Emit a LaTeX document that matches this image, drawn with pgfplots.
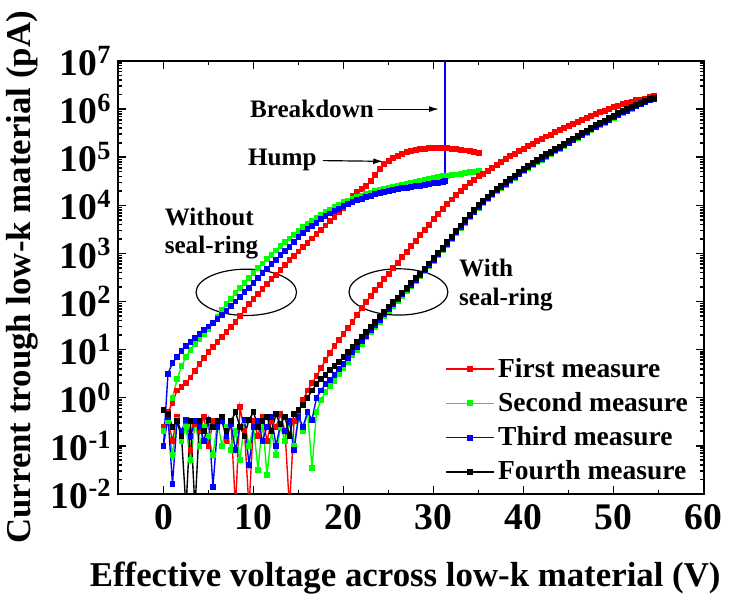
\documentclass[border=0pt]{standalone}
\usepackage{fontspec}
\setmainfont{Liberation Serif}
\usepackage{pgfplots}
\pgfplotsset{compat=1.18}
\usetikzlibrary{arrows.meta}

\definecolor{cR}{RGB}{255,0,0}
\definecolor{cG}{RGB}{0,255,0}
\definecolor{cB}{RGB}{0,0,255}
\pgfplotsset{ser/.style={line width=0.7pt, mark=square*, mark size=1.15pt, mark options={solid}}}

\begin{document}
\begin{tikzpicture}
\begin{axis}[
  scale only axis,
  width=295.8pt, height=218.8pt,
  xmin=-5, xmax=60,
  ymode=log, ymin=1e-2, ymax=1e7,
  axis line style={line width=1pt},
  tick align=inside,
  major tick length=4pt, minor tick length=2pt,
  every tick/.style={black, line width=0.8pt},
  xtick={0,10,...,60}, minor x tick num=1,
  xticklabels={0,10,20,30,40,50,60},
  ytick={1e-2,1e-1,1,1e1,1e2,1e3,1e4,1e5,1e6,1e7},
  yticklabels={10\textsuperscript{-2},10\textsuperscript{-1},10\textsuperscript{0},10\textsuperscript{1},10\textsuperscript{2},10\textsuperscript{3},10\textsuperscript{4},10\textsuperscript{5},10\textsuperscript{6},10\textsuperscript{7}},
  tick label style={font=\fontsize{19}{21}\selectfont\bfseries},
  xticklabel style={yshift=-2pt},
  xlabel={Effective voltage across low-k material (V)},
  ylabel={Current trough low-k material (pA)},
  label style={font=\fontsize{17.6}{20}\selectfont\bfseries},
  xlabel style={at={(axis description cs:0.49,-0.195)}, anchor=center},
  ylabel style={at={(axis description cs:-0.164,0.5)}, anchor=center, rotate=0},
  legend style={at={(axis description cs:0.558,0.324)}, anchor=north west, draw=none, fill=none,
    font=\fontsize{13.9}{16}\selectfont\bfseries, row sep=2.2pt, inner sep=0pt},
  legend cell align=left,
  legend image code/.code={\draw[mark repeat=2, mark phase=2] plot coordinates {(0pt,0pt) (12pt,0pt) (24pt,0pt)};},
]
% ---- without seal-ring ----
\addplot[ser, cR, forget plot] coordinates {
(0,0.25)(0.5,0.5)(1,0.79)(1.5,1.41)(2,1.66)(2.5,2.0)(3,2.63)(3.5,3.63)(4,5.0)(4.5,6.61)
(5,8.71)(5.5,11.2)(6,14.5)(6.5,18.6)(7,23.4)(7.5,29.5)(8,38)(8.5,50.1)(9,66.1)(9.5,87.1)
(10,112)(10.5,145)(11,182)(11.5,229)(12,288)(12.5,363)(13,457)(13.5,575)(14,724)(14.5,891)
(15,1096)(15.5,1349)(16,1660)(16.5,2042)(17,2512)(17.5,3090)(18,3802)(18.5,4677)(19,5754)(19.5,7079)
(20,8913)(20.5,11750)(21,15850)(21.5,18600)(22,21400)(22.5,25100)(23,31600)(23.5,42700)(24,56200)(24.5,70800)
(25,83200)(25.5,95500)(26,107000)(26.5,117000)(27,126000)(27.5,135000)(28,141000)(28.5,148000)(29,151000)(29.5,155000)
(30,158000)(30.5,158000)(31,158000)(31.5,155000)(32,151000)(32.5,148000)(33,141000)(33.5,138000)(34,132000)(34.5,129000)(35,123000)};
\addplot[ser, cG, forget plot] coordinates {
(1,1.0)(1.5,2.4)(2,4.47)(2.5,7.08)(3,10)(3.5,13.2)(4,16.6)(4.5,20.9)
(5,26.3)(5.5,35.5)(6,47.9)(6.5,66.1)(7,89.1)(7.5,115)(8,148)(8.5,191)(9,240)(9.5,309)
(10,389)(10.5,490)(11,617)(11.5,759)(12,933)(12.5,1148)(13,1413)(13.5,1698)(14,2042)(14.5,2455)
(15,2951)(15.5,3467)(16,4074)(16.5,4786)(17,5495)(17.5,6310)(18,7244)(18.5,8128)(19,9120)(19.5,10230)
(20,11480)(20.5,12590)(21,13800)(21.5,14790)(22,15850)(22.5,16980)(23,18200)(23.5,19500)(24,20900)(24.5,21900)
(25,23400)(25.5,24500)(26,25700)(26.5,26900)(27,28200)(27.5,29500)(28,30900)(28.5,32400)(29,33900)(29.5,35500)
(30,36300)(30.5,38000)(31,39800)(31.5,40700)(32,42700)(32.5,43700)(33,45700)(33.5,46800)(34,49000)(34.5,50100)(35,52500)};
\addplot[ser, cB, forget plot] coordinates {
(0,0.1)(0.5,3.16)(1,5.25)(1.5,7.08)(2,9.3)(2.5,11.7)(3,14.5)(3.5,17.4)(4,20.9)(4.5,25.1)
(5,30.2)(5.5,36.3)(6,43.7)(6.5,52.5)(7,63.1)(7.5,79.4)(8,100)(8.5,126)(9,155)(9.5,195)
(10,245)(10.5,309)(11,389)(11.5,479)(12,603)(12.5,741)(13,912)(13.5,1122)(14,1380)(14.5,1738)
(15,2188)(15.5,2630)(16,3162)(16.5,3715)(17,4365)(17.5,5129)(18,5888)(18.5,6761)(19,7586)(19.5,8511)
(20,9550)(20.5,10700)(21,11750)(21.5,12880)(22,13800)(22.5,14800)(23,15850)(23.5,17000)(24,17800)(24.5,18600)
(25,19500)(25.5,20400)(26,21400)(26.5,22400)(27,22900)(27.5,24000)(28,25100)(28.5,25700)(29,26900)(29.5,27500)
(30,28800)(30.5,29500)(31,30900)(31.3,31600)};
\addplot[color=cB, line width=0.8pt, mark=none, forget plot] coordinates {(31.3,31600)(31.3,1e8)};
% ---- with seal-ring ----
\addplot[ser, cR] coordinates {
(0,0.25)(0.5,0.35)(1,0.126)(1.5,0.4)(2,0.16)(2.5,0.32)(3,0.08)(3.5,0.28)(4,0.2)(4.5,0.4)
(5,0.1)(5.5,0.32)(6,0.25)(6.5,0.35)(7,0.126)(7.5,0.32)(8,0.005)(8.5,0.63)(9,0.2)(9.5,0.005)
(10,0.32)(10.5,0.16)(11,0.4)(11.5,0.126)(12,0.32)(12.5,0.25)(13,0.45)(13.5,0.2)(14,0.005)(14.5,0.32)
(15,0.5)(15.5,0.89)(16,1.41)(16.5,2.0)(17,2.82)(17.5,4.17)(18,6.03)(18.5,8.51)(19,12.0)(19.5,15.8)
(20,21.4)(20.5,28.2)(21,37.2)(21.5,51.3)(22,72.4)(22.5,97.7)(23,129)(23.5,170)(24,224)(24.5,288)
(25,380)(25.5,490)(26,631)(26.5,832)(27,1072)(27.5,1413)(28,1820)(28.5,2399)(29,3090)(29.5,3981)
(30,5129)(30.5,6457)(31,8318)(31.5,10470)(32,13180)(32.5,16220)(33,19950)(33.5,23990)(34,28840)(34.5,33880)
(35,39810)(35.5,45710)(36,52480)(36.5,60260)(37,69180)(37.5,79430)(38,91200)(38.5,104700)(39,117500)(39.5,131800)
(40,151400)(40.5,169800)(41,190500)(41.5,213800)(42,239900)(42.5,269200)(43,295100)(43.5,331100)(44,363100)(44.5,407400)
(45,446700)(45.5,489800)(46,549500)(46.5,602600)(47,660700)(47.5,724400)(48,794300)(48.5,871000)(49,933300)(49.5,1023000)
(50,1096000)(50.5,1175000)(51,1259000)(51.5,1318000)(52,1413000)(52.5,1514000)(53,1585000)(53.5,1660000)(54,1778000)(54.5,1862000)};
\addlegendentry{First measure}
\addplot[ser, cG] coordinates {
(0,0.2)(0.5,0.32)(1,0.063)(1.5,0.35)(2,0.126)(2.5,0.25)(3,0.05)(3.5,0.32)(4,0.1)(4.5,0.25)
(5,0.16)(5.5,0.063)(6,0.32)(6.5,0.1)(7,0.25)(7.5,0.08)(8,0.2)(8.5,0.05)(9,0.32)(9.5,0.1)
(10,0.25)(10.5,0.032)(11,0.32)(11.5,0.025)(12,0.2)(12.5,0.063)(13,0.25)(13.5,0.126)(14,0.32)(14.5,0.1)
(15,0.4)(15.5,0.2)(16,0.5)(16.5,0.035)(17,0.5)(17.5,0.89)(18,1.32)(18.5,1.78)(19,2.24)(19.5,3.16)
(20,4.17)(20.5,5.62)(21,7.59)(21.5,10)(22,13.2)(22.5,17.8)(23,22.9)(23.5,29.5)(24,38)(24.5,49)
(25,63.1)(25.5,81.3)(26,102)(26.5,132)(27,166)(27.5,209)(28,263)(28.5,339)(29,427)(29.5,550)
(30,708)(30.5,912)(31,1175)(31.5,1514)(32,1995)(32.5,2630)(33,3388)(33.5,4365)(34,5623)(34.5,7079)
(35,8913)(35.5,11000)(36,13500)(36.5,16200)(37,19500)(37.5,22900)(38,26900)(38.5,31600)(39,37200)(39.5,43700)
(40,51300)(40.5,58900)(41,67600)(41.5,77600)(42,89100)(42.5,102000)(43,117000)(43.5,135000)(44,151000)(44.5,174000)
(45,195000)(45.5,224000)(46,251000)(46.5,288000)(47,324000)(47.5,372000)(48,417000)(48.5,468000)(49,525000)(49.5,589000)
(50,661000)(50.5,741000)(51,832000)(51.5,933000)(52,1020000)(52.5,1150000)(53,1260000)(53.5,1380000)(54,1510000)(54.5,1660000)};
\addlegendentry{Second measure}
\addplot[ser, cB] coordinates {
(0,0.1)(0.5,0.4)(1,0.016)(1.5,0.32)(2,0.2)(2.5,0.35)(3,0.16)(3.5,0.32)(4,0.25)(4.5,0.126)
(5,0.35)(5.5,0.014)(6,0.25)(6.5,0.32)(7,0.16)(7.5,0.28)(8,0.08)(8.5,0.25)(9,0.35)(9.5,0.04)
(10,0.25)(10.5,0.32)(11,0.126)(11.5,0.25)(12,0.4)(12.5,0.1)(13,0.28)(13.5,0.2)(14,0.32)(14.5,0.08)
(15,0.4)(15.5,0.25)(16,0.5)(16.5,0.35)(17,1.0)(17.5,1.41)(18,1.91)(18.5,2.34)(19,3.02)(19.5,3.98)
(20,5.01)(20.5,6.61)(21,8.71)(21.5,11.5)(22,14.8)(22.5,19.5)(23,25.1)(23.5,32.4)(24,41.7)(24.5,53.7)
(25,69.2)(25.5,89.1)(26,112)(26.5,141)(27,178)(27.5,224)(28,282)(28.5,354)(29,447)(29.5,575)
(30,741)(30.5,955)(31,1230)(31.5,1585)(32,2089)(32.5,2754)(33,3548)(33.5,4571)(34,5888)(34.5,7413)
(35,9333)(35.5,11480)(36,14130)(36.5,16980)(37,20420)(37.5,23990)(38,28180)(38.5,33110)(39,38900)(39.5,45710)
(40,53700)(40.5,61660)(41,70800)(41.5,81280)(42,93300)(42.5,107200)(43,120200)(43.5,138000)(44,154900)(44.5,177800)
(45,199500)(45.5,229100)(46,257000)(46.5,295100)(47,331100)(47.5,380200)(48,426600)(48.5,478600)(49,537000)(49.5,602600)
(50,676100)(50.5,758600)(51,851100)(51.5,933300)(52,1047000)(52.5,1148000)(53,1259000)(53.5,1380000)(54,1514000)(54.5,1622000)};
\addlegendentry{Third measure}
\addplot[ser, black] coordinates {
(0,0.56)(0.5,0.45)(1,0.25)(1.5,0.32)(2,0.16)(2.5,0.005)(3,0.32)(3.5,0.005)(4,0.32)(4.5,0.2)
(5,0.35)(5.5,0.25)(6,0.32)(6.5,0.4)(7,0.2)(7.5,0.32)(8,0.5)(8.5,0.25)(9,0.16)(9.5,0.35)
(10,0.5)(10.5,0.25)(11,0.32)(11.5,0.4)(12,0.2)(12.5,0.45)(13,0.28)(13.5,0.4)(14,0.16)(14.5,0.45)
(15,0.56)(15.5,0.71)(16,1.0)(16.5,1.41)(17,1.91)(17.5,2.4)(18,3.02)(18.5,3.72)(19,4.57)(19.5,5.62)
(20,7.08)(20.5,8.91)(21,11.2)(21.5,14.5)(22,18.2)(22.5,23.4)(23,29.5)(23.5,37.2)(24,46.8)(24.5,60.3)
(25,75.9)(25.5,95.5)(26,120)(26.5,151)(27,191)(27.5,240)(28,302)(28.5,380)(29,479)(29.5,617)
(30,794)(30.5,1023)(31,1318)(31.5,1698)(32,2239)(32.5,2951)(33,3802)(33.5,4898)(34,6310)(34.5,7943)
(35,10000)(35.5,12300)(36,15140)(36.5,18200)(37,21900)(37.5,25700)(38,30200)(38.5,35500)(39,41700)(39.5,49000)
(40,57500)(40.5,66100)(41,75900)(41.5,87100)(42,100000)(42.5,115000)(43,129000)(43.5,148000)(44,166000)(44.5,191000)
(45,214000)(45.5,245000)(46,275000)(46.5,316000)(47,355000)(47.5,407000)(48,457000)(48.5,513000)(49,575000)(49.5,646000)
(50,724000)(50.5,813000)(51,912000)(51.5,1000000)(52,1120000)(52.5,1230000)(53,1350000)(53.5,1480000)(54,1620000)(54.5,1740000)};
\addlegendentry{Fourth measure}
% ---- annotations ----
\begin{scope}[font=\fontsize{12.7}{14.5}\selectfont\bfseries]
\node at (axis cs:16.5,1.02e6) {Breakdown};
\draw[-{Latex[length=5pt,width=3pt]}, line width=0.6pt] (axis cs:23.8,1e6) -- (axis cs:30.6,1e6);
\node at (axis cs:13.2,8.7e4) {Hump};
\draw[-{Latex[length=5pt,width=3pt]}, line width=0.6pt] (axis cs:17.7,8.5e4) -- (axis cs:24.4,8.2e4);
\node[anchor=west, align=left, inner sep=0pt] at (axis cs:0.1,2.6e3) {Without\\seal-ring};
\node[anchor=west, align=left, inner sep=0pt] at (axis cs:32.8,2.2e2) {With\\seal-ring};
\end{scope}
\draw[line width=0.6pt] (axis cs:9.2,155) ellipse [x radius=25.4pt, y radius=11.7pt];
\draw[line width=0.6pt] (axis cs:26.1,158) ellipse [x radius=25pt, y radius=11.7pt];
\end{axis}
\path (current axis.south west) ++(-58.35pt,-50.85pt) rectangle ++(364.5pt,300.5pt);
\end{tikzpicture}
\end{document}
